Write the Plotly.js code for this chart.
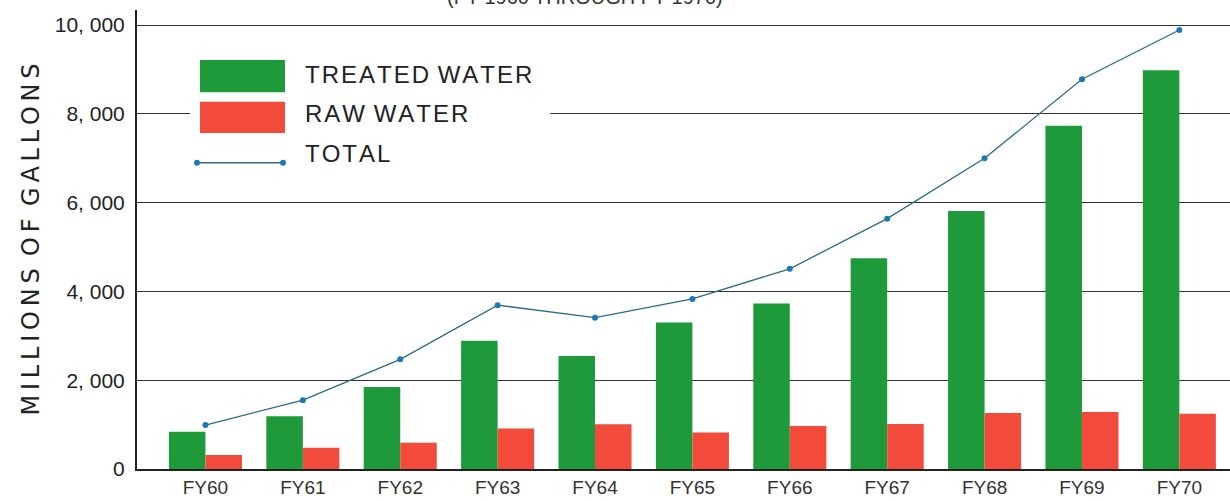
<!DOCTYPE html>
<html>
<head>
<meta charset="utf-8">
<script src="https://cdn.plot.ly/plotly-3.0.1.min.js"></script>
<style>html,body{margin:0;padding:0;background:#fff;}#chart{width:1230px;height:501px;}</style>
</head>
<body>
<div id="chart"></div>
<script>
// ---- data ----
const categories = ["FY60","FY61","FY62","FY63","FY64","FY65","FY66","FY67","FY68","FY69","FY70"];
const treatedWater = [840, 1190, 1850, 2890, 2545, 3300, 3730, 4750, 5810, 7730, 8980];
const rawWater     = [315,  480,  590,  910, 1010,  820,  970, 1015, 1260, 1285, 1245];
const totalWater   = [990, 1550, 2470, 3690, 3410, 3830, 4510, 5640, 7000, 8780, 9890];
const yTickVals  = [0, 2000, 4000, 6000, 8000, 10000];
const yTickText  = ["0", "2, 000", "4, 000", "6, 000", "8, 000", "10, 000"];
const seriesNames = ["TREATED WATER", "RAW WATER", "TOTAL"];
const subtitle = "(FY 1960 THROUGH FY 1970)";

const GREEN = "#1f9a3b", RED = "#f24b3c", LINE = "#2b6a87", DOT = "#1f78b4";

const traces = [
  {type:"bar", name:seriesNames[0], x:categories, y:treatedWater, marker:{color:GREEN}},
  {type:"bar", name:seriesNames[1], x:categories, y:rawWater, marker:{color:RED}},
  {type:"scatter", mode:"lines+markers", name:seriesNames[2], x:categories, y:totalWater,
   line:{color:LINE, width:1.3}, marker:{color:DOT, size:6}}
];

const labelFont = {family:"Liberation Sans, Arial, sans-serif", size:24, color:"#222"};
const shapes = [
  // custom legend block (white background hides the gridline)
  {type:"rect", xref:"paper", yref:"paper", x0:0.0485, x1:0.378, y0:0.641, y1:0.924,
   fillcolor:"#fff", line:{width:0}, layer:"above"},
  {type:"rect", xref:"paper", yref:"paper", x0:0.0576, x1:0.1354, y0:0.821, y1:0.891,
   fillcolor:GREEN, line:{width:0}, layer:"above"},
  {type:"rect", xref:"paper", yref:"paper", x0:0.0576, x1:0.1354, y0:0.732, y1:0.800,
   fillcolor:RED, line:{width:0}, layer:"above"},
  {type:"line", xref:"paper", yref:"paper", x0:0.0549, x1:0.1336, y0:0.667, y1:0.667,
   line:{color:LINE, width:1.5}, layer:"above"},
  {type:"circle", xref:"paper", yref:"paper", x0:0.0522, x1:0.0576, y0:0.6605, y1:0.6735,
   fillcolor:DOT, line:{width:0}, layer:"above"},
  {type:"circle", xref:"paper", yref:"paper", x0:0.1309, x1:0.1363, y0:0.6605, y1:0.6735,
   fillcolor:DOT, line:{width:0}, layer:"above"}
];
const annotations = [
  {xref:"paper", yref:"paper", x:0.1519, y:0.860, xanchor:"left", yanchor:"middle", showarrow:false,
   text:"T R E A T E D  W A T E R".replace(/ (?! )/g,"\u200A"), font:labelFont},
  {xref:"paper", yref:"paper", x:0.1519, y:0.774, xanchor:"left", yanchor:"middle", showarrow:false,
   text:"R A W  W A T E R".replace(/ (?! )/g,"\u200A"), font:labelFont},
  {xref:"paper", yref:"paper", x:0.1519, y:0.688, xanchor:"left", yanchor:"middle", showarrow:false,
   text:"T O T A L".replace(/ (?! )/g,"\u200A"), font:labelFont},
  {xref:"paper", yref:"paper", x:0.41, y:1.028, xanchor:"center", yanchor:"middle", showarrow:false,
   text:subtitle, font:{family:"Liberation Sans, Arial, sans-serif", size:20, color:"#333"}}
];

const layout = {
  width:1230, height:501,
  margin:{l:137, r:0, t:10, b:32},
  paper_bgcolor:"#fff", plot_bgcolor:"#fff",
  showlegend:false,
  barmode:"group", bargap:0.25, bargroupgap:0,
  xaxis:{
    type:"category", range:[-0.703, 10.52],
    showgrid:false, zeroline:false,
    showline:true, linecolor:"#222", linewidth:2,
    ticks:"", tickfont:{family:"Liberation Sans Narrow, Arial Narrow, Liberation Sans, sans-serif", size:19, color:"#333"}
  },
  yaxis:{
    range:[0, 10340],
    tickmode:"array", tickvals:yTickVals, ticktext:yTickText,
    showgrid:true, gridcolor:"#333", gridwidth:1,
    zeroline:false, showline:true, linecolor:"#222", linewidth:2,
    ticks:"", ticklabelstandoff:6,
    tickfont:{family:"Liberation Sans, Arial, sans-serif", size:21, color:"#222"},
    title:{text:"M I L L I O N S  O F  G A L L O N S".replace(/ (?! )/g,"\u2009"), standoff:8,
      font:{family:"DejaVu Sans, sans-serif", size:24, color:"#222"}}
  },
  shapes:shapes,
  annotations:annotations,
  font:{family:"Liberation Sans, Arial, sans-serif"}
};

Plotly.newPlot("chart", traces, layout, {staticPlot:true, displayModeBar:false});
</script>
</body>
</html>
